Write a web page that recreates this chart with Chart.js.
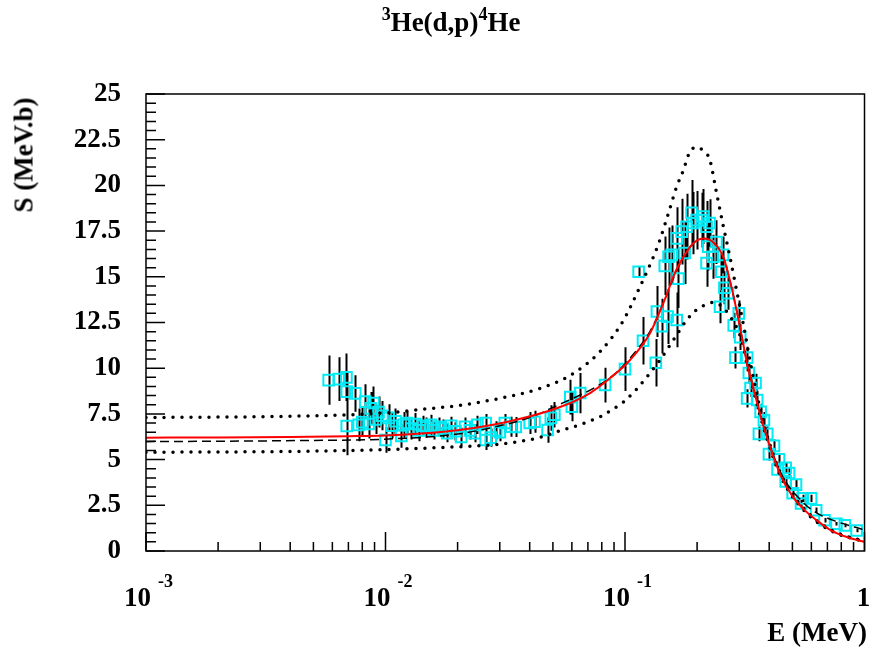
<!DOCTYPE html>
<html>
<head>
<meta charset="utf-8">
<script src="https://cdn.jsdelivr.net/npm/chart.js@4.4.1/dist/chart.umd.min.js"></script>
<style>
  html, body { margin: 0; padding: 0; background: #fff; }
  #wrap { position: relative; width: 874px; height: 656px; overflow: hidden; }
  #chart { position: absolute; left: 0; top: 0; }
  .lbl { position: absolute; font-family: "Liberation Serif", "Times New Roman", serif; font-weight: bold;
         font-size: 27px; line-height: 1; color: #000; white-space: nowrap; }
  .lbl sup { font-size: 18px; vertical-align: 0; position: relative; top: -11px; }
  #title  { left: 451px; top: 9px; transform: translateX(-50%); }
  #xtitle { right: 7px; top: 619px; }
  #ytitle { left: 24px; top: 155px; transform: translate(-50%, -50%) rotate(-90deg); }
</style>
</head>
<body>
<div id="wrap">
  <canvas id="chart" width="874" height="656"></canvas>
  <div class="lbl" id="title"><sup>3</sup>He(d,p)<sup>4</sup>He</div>
  <div class="lbl" id="ytitle">S (MeV.b)</div>
  <div class="lbl" id="xtitle">E (MeV)</div>
</div>
<script>
// ── DATA ──
// measured points: energy (MeV), S factor (MeV.b), half error
const dataE = [
  0.00579, 0.00638, 0.00687, 0.00689, 0.00689, 0.00748, 0.00773, 0.0080, 0.00823, 0.0085,
  0.00867, 0.00891, 0.0091, 0.00935, 0.0097, 0.0100, 0.0103, 0.0106, 0.0110, 0.01165,
  0.0119, 0.0123, 0.0128, 0.0133, 0.0138, 0.0143, 0.0148, 0.0155, 0.0160, 0.0167,
  0.0174, 0.0181, 0.0188, 0.0196, 0.0207, 0.0215, 0.0225, 0.0236, 0.0242, 0.0262,
  0.0262, 0.0275, 0.0290, 0.0300, 0.0315, 0.0335, 0.0350, 0.0400, 0.0419, 0.0475,
  0.0490, 0.0507, 0.0591, 0.0600, 0.0650, 0.0826, 0.1000,
  0.1140, 0.1189, 0.1345, 0.1359, 0.1425, 0.1466, 0.1506, 0.1520, 0.1567, 0.1644,
  0.1644, 0.1671, 0.1725, 0.1775, 0.1808, 0.1897, 0.1928, 0.1991, 0.2088, 0.2122,
  0.2190, 0.2254, 0.2190, 0.2225, 0.2334, 0.2409, 0.2494, 0.2525, 0.2566, 0.2600,
  0.2692, 0.2844, 0.2891, 0.2986, 0.3027, 0.3236, 0.3289, 0.3343, 0.3508, 0.3236,
  0.3565, 0.3623, 0.3683, 0.3802, 0.3926, 0.3990, 0.4188, 0.4335, 0.4396, 0.4688,
  0.4688, 0.4842, 0.5012, 0.5176, 0.5433, 0.5520, 0.5984, 0.6281, 0.6808, 0.7638,
  0.8279, 0.9268
];
const dataS = [
  9.35, 9.40, 9.50, 6.84, 8.72, 8.62, 6.90, 7.05, 8.17, 6.95,
  7.80, 8.10, 7.20, 7.60, 7.40, 6.07, 7.28, 6.85, 7.10, 6.30,
  6.90, 7.00, 6.70, 6.95, 6.60, 6.85, 6.75, 6.90, 6.60, 6.80,
  6.70, 6.45, 6.85, 6.55, 6.24, 6.80, 6.60, 6.45, 6.90, 6.07,
  7.00, 6.20, 6.60, 6.50, 7.00, 6.80, 6.78, 7.00, 7.07, 6.62,
  7.28, 7.45, 8.42, 7.90, 8.64, 9.08, 9.95,
  15.28, 11.50, 10.30, 13.10, 12.30, 15.60, 12.82, 16.10, 16.20, 12.64,
  17.10, 14.90, 17.47, 16.30, 17.74, 18.50, 17.94, 18.10, 18.10, 18.30,
  17.74, 17.94, 15.75, 16.65, 16.10, 16.90, 13.36, 15.28, 16.20, 14.40,
  14.10, 12.34, 10.58, 13.00, 11.70, 10.58, 9.74, 8.92, 9.19, 8.35,
  8.26, 6.41, 7.61, 7.15, 6.41, 5.30, 5.75, 4.46, 5.02, 4.55,
  3.81, 4.27, 3.16, 3.63, 2.60, 2.88, 2.88, 2.23, 1.68, 1.49,
  1.40, 1.12
];
const dataErr = [
  1.35, 1.20, 1.30, 1.60, 1.10, 1.00, 0.90, 0.80, 0.95, 0.80,
  0.90, 0.90, 0.80, 0.85, 0.80, 0.70, 0.75, 0.70, 0.70, 0.65,
  0.70, 0.65, 0.60, 0.60, 0.60, 0.55, 0.55, 0.55, 0.50, 0.50,
  0.50, 0.50, 0.50, 0.50, 0.50, 0.50, 0.50, 0.50, 0.50, 0.55,
  0.50, 0.50, 0.50, 0.50, 0.50, 0.55, 0.55, 0.60, 0.60, 0.70,
  0.70, 0.70, 0.95, 0.80, 1.10, 0.95, 1.20,
  0.30, 1.30, 1.30, 1.40, 1.50, 1.60, 1.50, 1.60, 1.60, 1.50,
  1.70, 1.60, 1.80, 1.70, 1.80, 1.80, 1.70, 1.60, 1.50, 1.50,
  1.40, 1.30, 1.30, 1.30, 1.20, 1.20, 0.90, 1.00, 1.00, 0.90,
  0.90, 0.70, 0.60, 0.70, 0.70, 0.60, 0.60, 0.50, 0.50, 0.50,
  0.50, 0.40, 0.45, 0.45, 0.40, 0.35, 0.35, 0.30, 0.30, 0.30,
  0.30, 0.30, 0.25, 0.25, 0.20, 0.20, 0.20, 0.15, 0.12, 0.10,
  0.10, 0.10
];

// fit curve (red)
const fitE = [0.001, 0.002, 0.004, 0.007, 0.01, 0.015, 0.02, 0.0324, 0.0522, 0.0715, 0.0867, 0.105,
  0.127, 0.145, 0.164, 0.186, 0.2, 0.214, 0.233, 0.257, 0.273, 0.292, 0.31, 0.324, 0.342, 0.381,
  0.448, 0.5, 0.561, 0.65, 0.727, 0.85, 1.0];
const fitS = [6.2, 6.21, 6.24, 6.28, 6.32, 6.45, 6.6, 7.07, 7.82, 8.64, 9.46, 10.45,
  11.9, 13.6, 15.4, 16.6, 17.0, 17.1, 16.9, 16.1, 14.9, 13.2, 11.5, 10.2, 9.0, 6.7,
  4.1, 3.0, 2.25, 1.55, 1.12, 0.75, 0.5];

// second fit (black dashed)
const dashE = [0.001, 0.005, 0.01, 0.02, 0.03, 0.04, 0.055, 0.075, 0.09, 0.105, 0.127, 0.145,
  0.164, 0.186, 0.2, 0.214, 0.233, 0.257, 0.273, 0.292, 0.31, 0.324, 0.342, 0.381, 0.448,
  0.56, 0.638, 0.75, 0.908, 1.0];
const dashS = [5.98, 6.05, 6.12, 6.4, 6.85, 7.3, 8.1, 8.95, 9.65, 10.55, 12.0, 13.6,
  15.3, 16.6, 17.0, 17.1, 16.9, 16.1, 14.9, 13.2, 11.5, 10.2, 9.0, 6.75, 4.25,
  2.6, 2.05, 1.65, 1.31, 1.15];

// upper / lower bands (dotted)
const upE = [0.001, 0.00436, 0.01, 0.0155, 0.02, 0.03, 0.0443, 0.059, 0.0786, 0.0973, 0.114,
  0.138, 0.152, 0.164, 0.175, 0.186, 0.199, 0.212, 0.226, 0.241, 0.257, 0.273, 0.292, 0.312,
  0.342, 0.381, 0.448, 0.561, 0.727, 1.0];
const upS = [7.3, 7.38, 7.55, 7.8, 7.95, 8.35, 8.9, 9.6, 10.9, 12.5, 14.3,
  16.8, 18.5, 19.9, 20.8, 21.8, 22.1, 21.9, 21.4, 19.6, 17.8, 16.2, 14.3, 12.4,
  9.6, 6.9, 4.2, 2.3, 1.15, 0.52];

const loE = [0.001, 0.00436, 0.01, 0.02, 0.0275, 0.0357, 0.0444, 0.0506, 0.0577, 0.0642, 0.0716,
  0.079, 0.09, 0.0989, 0.11, 0.123, 0.14, 0.164, 0.181, 0.199, 0.216, 0.234, 0.255, 0.282, 0.3,
  0.312, 0.324, 0.342, 0.381, 0.448, 0.561, 0.727, 1.0];
const loS = [5.4, 5.45, 5.55, 5.7, 5.8, 5.98, 6.22, 6.47, 6.71, 6.89, 7.13,
  7.35, 7.8, 8.17, 8.75, 9.5, 10.45, 11.8, 12.64, 13.2, 13.46, 13.6, 13.35, 12.6, 11.9,
  11.2, 10.1, 8.9, 6.65, 4.05, 2.2, 1.1, 0.5];

// axis ticks
const yMajorTicks = [0, 2.5, 5, 7.5, 10, 12.5, 15, 17.5, 20, 22.5, 25];
const yTickLabels = ['0', '2.5', '5', '7.5', '10', '12.5', '15', '17.5', '20', '22.5', '25'];
const yMinorStep = 0.5;
const xDecades = [0.001, 0.01, 0.1, 1];
const xExponents = ['-3', '-2', '-1', ''];

const pts = (xs, ys) => xs.map((x, i) => ({ x: x, y: ys[i] }));

const FONT = '"Liberation Serif", "Times New Roman", serif';

// error bars go under the markers
const errorBars = {
  id: 'errorBars',
  beforeDatasetsDraw(chart) {
    const { ctx, chartArea: a, scales: { x, y } } = chart;
    ctx.save();
    ctx.beginPath();
    ctx.rect(a.left, a.top, a.right - a.left, a.bottom - a.top);
    ctx.clip();
    ctx.strokeStyle = '#000';
    ctx.lineWidth = 2;
    ctx.beginPath();
    dataE.forEach((e, i) => {
      const px = Math.round(x.getPixelForValue(e)) + 0.5;
      ctx.moveTo(px, y.getPixelForValue(dataS[i] - dataErr[i]));
      ctx.lineTo(px, y.getPixelForValue(dataS[i] + dataErr[i]));
    });
    ctx.stroke();
    ctx.restore();
  }
};

// ROOT-style frame: ticks pointing inwards on left and bottom
const frame = {
  id: 'frame',
  afterDraw(chart) {
    const { ctx, chartArea: a, scales: { x, y } } = chart;
    ctx.save();
    ctx.strokeStyle = '#000';
    ctx.lineWidth = 1.5;
    ctx.strokeRect(a.left, a.top, a.right - a.left, a.bottom - a.top);

    ctx.beginPath();
    for (let v = 0; v <= 25 + 1e-9; v += yMinorStep) {
      const py = y.getPixelForValue(v);
      const major = Math.abs(v / 2.5 - Math.round(v / 2.5)) < 1e-6;
      ctx.moveTo(a.left, py);
      ctx.lineTo(a.left + (major ? 19 : 10), py);
    }
    xDecades.forEach((d, i) => {
      const px = x.getPixelForValue(d);
      ctx.moveTo(px, a.bottom);
      ctx.lineTo(px, a.bottom - 19);
      if (i < xDecades.length - 1) {
        for (let k = 2; k <= 9; k++) {
          const pk = x.getPixelForValue(k * d);
          ctx.moveTo(pk, a.bottom);
          ctx.lineTo(pk, a.bottom - 9);
        }
      }
    });
    ctx.stroke();

    ctx.fillStyle = '#000';
    ctx.font = 'bold 27px ' + FONT;
    ctx.textAlign = 'right';
    ctx.textBaseline = 'middle';
    yMajorTicks.forEach((v, i) => ctx.fillText(yTickLabels[i], a.left - 25, y.getPixelForValue(v)));

    ctx.textBaseline = 'alphabetic';
    xDecades.forEach((d, i) => {
      const px = x.getPixelForValue(d);
      if (xExponents[i]) {
        ctx.font = 'bold 27px ' + FONT;
        ctx.textAlign = 'right';
        ctx.fillText('10', px + 5, 606);
        ctx.font = 'bold 18px ' + FONT;
        ctx.textAlign = 'left';
        ctx.fillText(xExponents[i], px + 12, 587);
      } else {
        ctx.font = 'bold 27px ' + FONT;
        ctx.textAlign = 'center';
        ctx.fillText('1', px - 1, 606);
      }
    });
    ctx.restore();
  }
};

const dotted = { borderColor: '#000', borderWidth: 3.5, borderDash: [0, 9], borderCapStyle: 'round' };

new Chart(document.getElementById('chart').getContext('2d'), {
  data: {
    datasets: [
      { type: 'line', data: pts(fitE, fitS), borderColor: '#ff0000', borderWidth: 2,
        pointRadius: 0, cubicInterpolationMode: 'monotone' },
      { type: 'line', data: pts(dashE, dashS), borderColor: '#000', borderWidth: 1.5,
        borderDash: [9, 5], pointRadius: 0, cubicInterpolationMode: 'monotone' },
      Object.assign({ type: 'line', data: pts(upE, upS), pointRadius: 0, cubicInterpolationMode: 'monotone' }, dotted),
      Object.assign({ type: 'line', data: pts(loE, loS), pointRadius: 0, cubicInterpolationMode: 'monotone' }, dotted),
      { type: 'scatter', data: pts(dataE, dataS), pointStyle: 'rect', pointRadius: 7.5,
        pointBorderWidth: 2, pointBorderColor: 'rgb(0,235,245)', pointBackgroundColor: 'rgba(0,0,0,0)' }
    ]
  },
  options: {
    responsive: false,
    animation: false,
    devicePixelRatio: 1,
    layout: { padding: { left: 146, right: 4, top: 94, bottom: 105 } },
    plugins: { legend: { display: false }, tooltip: { enabled: false } },
    scales: {
      x: { type: 'logarithmic', min: 0.001, max: 1, display: false },
      y: { type: 'linear', min: 0, max: 25, display: false }
    }
  },
  plugins: [errorBars, frame]
});
</script>
</body>
</html>
